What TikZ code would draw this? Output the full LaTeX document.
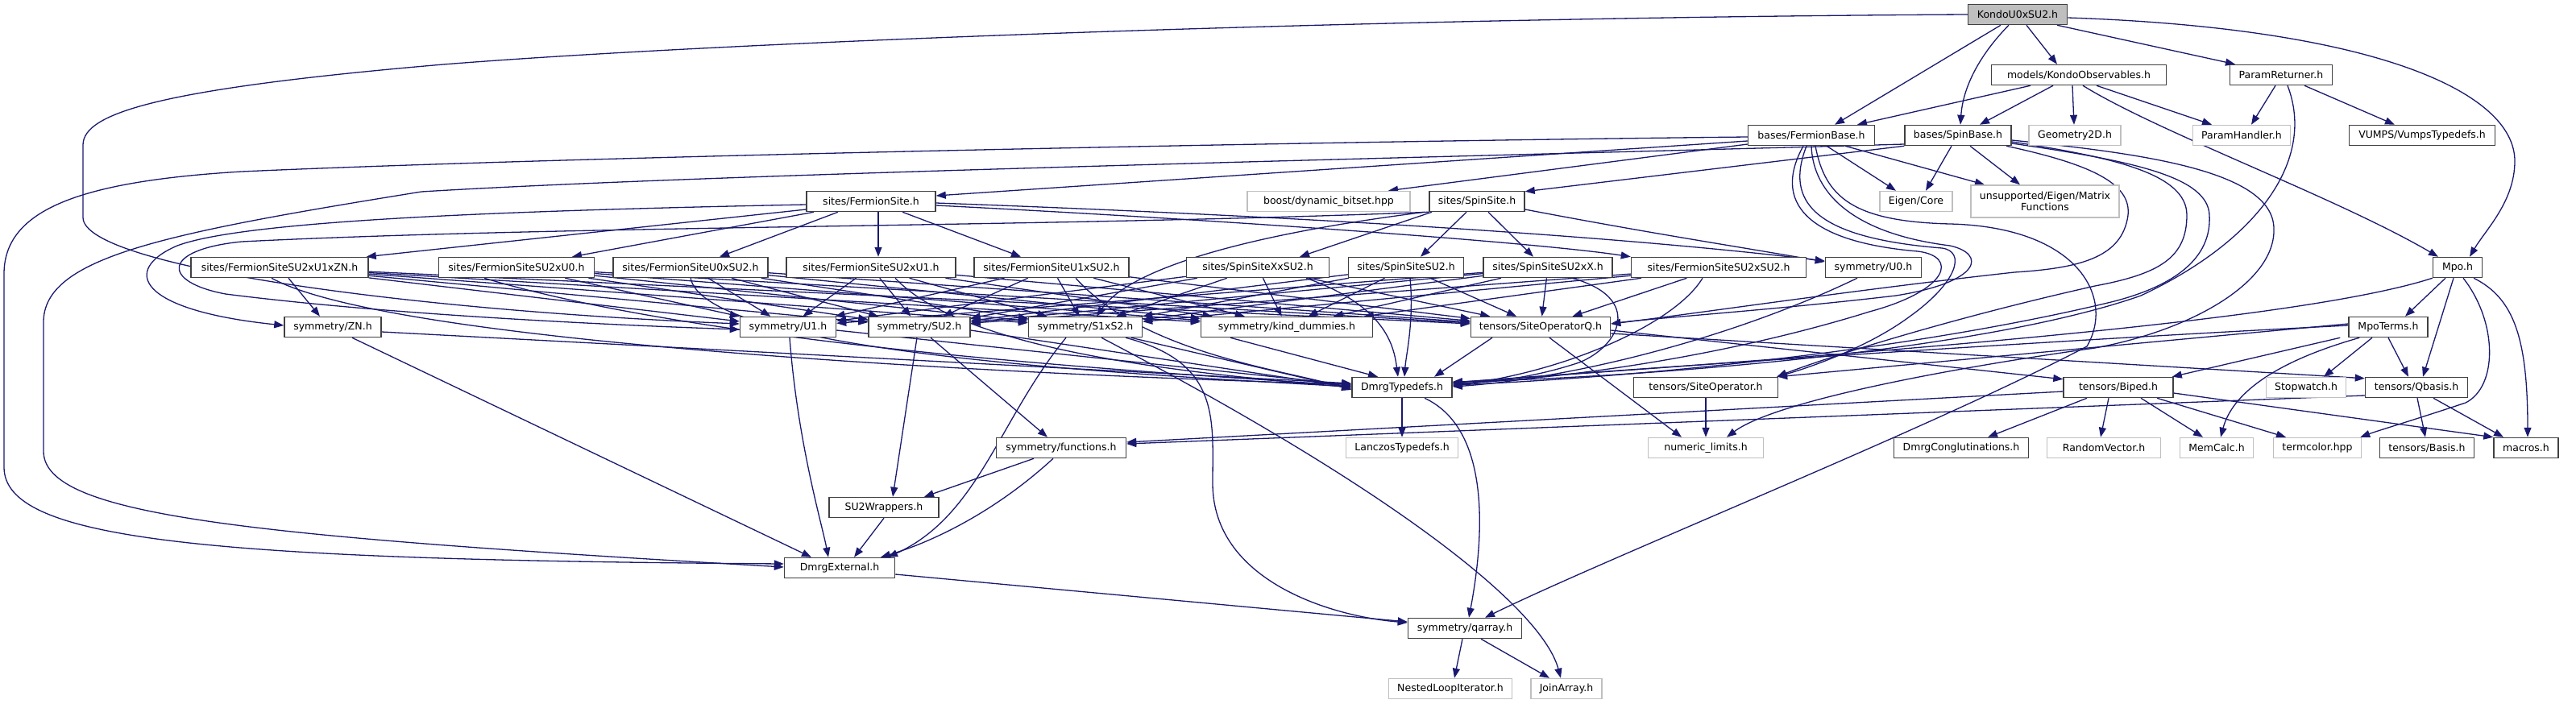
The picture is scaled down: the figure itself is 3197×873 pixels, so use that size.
\documentclass[tikz,border=0pt]{standalone}
\usepackage{fontspec}
\setmainfont{DejaVu Sans}
\usetikzlibrary{arrows.meta,backgrounds}
\definecolor{edgec}{HTML}{191970}
\definecolor{grayb}{HTML}{BFBFBF}
\definecolor{blackb}{HTML}{404040}
\begin{document}
\begin{tikzpicture}[x=1pt,y=-1pt,
  box/.style={draw=blackb, line width=1.5pt, fill=white, inner sep=0pt, minimum height=25pt, text=black, font=\fontsize{12.5}{14.5}\selectfont},
  gbox/.style={box, draw=grayb},
  edge/.style={draw=edgec, line width=1.3pt, -{Triangle[length=12pt,width=9pt]}}]
\useasboundingbox (0,0) rectangle (3197,873);
% ---------------- nodes ----------------
\node[box, fill=grayb, minimum width=123pt] (K) at (2504,18) {KondoU0xSU2.h};
\node[box, minimum width=217pt] (kobs) at (2580,93) {models/KondoObservables.h};
\node[box, minimum width=127pt] (pret) at (2831,93) {ParamReturner.h};
\node[box, minimum width=157pt] (fbase) at (2248,168) {bases/FermionBase.h};
\node[box, minimum width=132pt] (sbase) at (2430,168) {bases/SpinBase.h};
\node[gbox, minimum width=114pt] (geo) at (2575,168) {Geometry2D.h};
\node[gbox, minimum width=121pt] (phand) at (2782,168) {ParamHandler.h};
\node[box, minimum width=181pt] (vumps) at (3006,168) {VUMPS/VumpsTypedefs.h};
\node[box, minimum width=160pt] (fsite) at (1081,250) {sites/FermionSite.h};
\node[gbox, minimum width=202pt] (boost) at (1649,250) {boost/dynamic\_bitset.hpp};
\node[box, minimum width=118pt] (ssite) at (1833,250) {sites/SpinSite.h};
\node[gbox, minimum width=90pt] (eigen) at (2378,250) {Eigen/Core};
\node[gbox, minimum width=184pt, minimum height=40pt, align=center] (unsup) at (2538,250) {unsupported/Eigen/Matrix\\Functions};
\node[box, minimum width=61pt] (mpo) at (3050,332) {Mpo.h};
\node[box, minimum width=220pt] (fzn) at (347,332) {sites/FermionSiteSU2xU1xZN.h};
\node[box, minimum width=193pt] (fsu2u0) at (641,332) {sites/FermionSiteSU2xU0.h};
\node[box, minimum width=192pt] (fu0su2) at (857,332) {sites/FermionSiteU0xSU2.h};
\node[box, minimum width=210pt] (fsu2u1) at (1081,332) {sites/FermionSiteSU2xU1.h};
\node[box, minimum width=192pt] (fu1su2) at (1305,332) {sites/FermionSiteU1xSU2.h};
\node[box, minimum width=177pt] (sxsu2) at (1561,332) {sites/SpinSiteXxSU2.h};
\node[box, minimum width=143pt] (ssu2) at (1745,332) {sites/SpinSiteSU2.h};
\node[box, minimum width=160pt] (ssu2x) at (1921,332) {sites/SpinSiteSU2xX.h};
\node[box, minimum width=217pt] (fsu2su2) at (2133,332) {sites/FermionSiteSU2xSU2.h};
\node[box, minimum width=119pt] (u0) at (2325,332) {symmetry/U0.h};
\node[box, minimum width=120pt] (zn) at (413,406) {symmetry/ZN.h};
\node[box, minimum width=119pt] (u1) at (978,406) {symmetry/U1.h};
\node[box, minimum width=126pt] (su2) at (1141,406) {symmetry/SU2.h};
\node[box, minimum width=141pt] (s1s2) at (1347,406) {symmetry/S1xS2.h};
\node[box, minimum width=213pt] (kind) at (1597,406) {symmetry/kind\_dummies.h};
\node[box, minimum width=173pt] (soq) at (1912,406) {tensors/SiteOperatorQ.h};
\node[box, minimum width=98pt] (mpot) at (2964,406) {MpoTerms.h};
\node[box, minimum width=124pt] (dtyp) at (1740,481) {DmrgTypedefs.h};
\node[box, minimum width=179pt] (sop) at (2117,481) {tensors/SiteOperator.h};
\node[box, minimum width=136pt] (biped) at (2629,481) {tensors/Biped.h};
\node[gbox, minimum width=99pt] (stopw) at (2862,481) {Stopwatch.h};
\node[box, minimum width=127pt] (qbasis) at (2999,481) {tensors/Qbasis.h};
\node[box, minimum width=161pt] (func) at (1317,556) {symmetry/functions.h};
\node[gbox, minimum width=139pt] (lanc) at (1740,556) {LanczosTypedefs.h};
\node[gbox, minimum width=143pt] (numl) at (2117,556) {numeric\_limits.h};
\node[box, minimum width=167pt] (dconj) at (2434,556) {DmrgConglutinations.h};
\node[gbox, minimum width=141pt] (randv) at (2611,556) {RandomVector.h};
\node[gbox, minimum width=91pt] (memc) at (2751,556) {MemCalc.h};
\node[gbox, minimum width=109pt] (termc) at (2876,556) {termcolor.hpp};
\node[box, minimum width=117pt] (basis) at (3012,556) {tensors/Basis.h};
\node[box, minimum width=80pt] (macros) at (3135,556) {macros.h};
\node[box, minimum width=136pt] (su2w) at (1097,630) {SU2Wrappers.h};
\node[box, minimum width=137pt] (dext) at (1042,705) {DmrgExternal.h};
\node[box, minimum width=141pt] (qarr) at (1818,780) {symmetry/qarray.h};
\node[gbox, minimum width=153pt] (nest) at (1800,855) {NestedLoopIterator.h};
\node[gbox, minimum width=88pt] (join) at (1944,855) {JoinArray.h};
% ---------------- edges ----------------
\begin{pgfonlayer}{background}
\fill[white] (0,0) rectangle (3197,873);
% root
\draw[edge] ([xshift=-21pt]K.south) -- ([xshift=29pt]fbase.north);
\draw[edge] ([xshift=-11pt]K.south) .. controls (2455,70) and (2436,110) .. ([xshift=3pt]sbase.north);
\draw[edge] ([xshift=11pt]K.south) -- ([xshift=-27pt]kobs.north);
\draw[edge] ([xshift=49pt]K.south) -- ([xshift=-57pt]pret.north);
\draw[edge] ([yshift=-4pt]K.east) .. controls (2950,35) and (3121,115) .. (3121,200) .. controls (3121,250) and (3085,285) .. ([xshift=15pt]mpo.north);
\draw[edge] (K.west) .. controls (1700,22) and (900,52) .. (550,80) .. controls (200,110) and (103,140) .. (103,180) -- (103,270) .. controls (103,330) and (500,385) .. ([yshift=4pt]u1.west);
% KondoObservables
\draw[edge] ([xshift=-60pt]kobs.south) -- ([xshift=57pt]fbase.north);
\draw[edge] ([xshift=-32pt]kobs.south) -- ([xshift=27pt]sbase.north);
\draw[edge] ([xshift=-8pt]kobs.south) -- ([xshift=-1pt]geo.north);
\draw[edge] ([xshift=22pt]kobs.south) -- ([xshift=-37pt]phand.north);
\draw[edge] ([xshift=5pt]kobs.south) .. controls (2680,165) and (2900,245) .. ([xshift=-24pt]mpo.north);
% ParamReturner
\draw[edge] ([xshift=-7pt]pret.south) -- ([xshift=12pt]phand.north);
\draw[edge] ([xshift=29pt]pret.south) -- ([xshift=-34pt]vumps.north);
\draw[edge] ([xshift=8pt]pret.south) .. controls (2875,200) and (2800,300) .. (2657,367) .. controls (2450,440) and (2000,470) .. ([yshift=7pt]dtyp.east);
% FermionBase
\draw[edge] ([yshift=-7pt]fbase.west) -- ([yshift=7pt]fsite.east);
\draw[edge] ([yshift=-11pt]fbase.west) -- ([xshift=74pt]boost.north);
\draw[edge] ([xshift=19pt]fbase.south) -- ([xshift=-25pt]eigen.north);
\draw[edge] ([xshift=42pt]fbase.south) -- ([xshift=-75pt]unsup.north);
\draw[edge] ([yshift=-2pt]fbase.west) .. controls (1600,176) and (700,195) .. (300,213) .. controls (100,225) and (5,260) .. (5,340) -- (5,580) .. controls (5,670) and (250,695) .. ([yshift=5pt]dext.west);
\draw[edge] ([xshift=-10pt]fbase.south) .. controls (2200,250) and (2240,300) .. (2380,312) .. controls (2430,318) and (2420,360) .. (2320,387) .. controls (2150,440) and (1950,470) .. ([yshift=5pt]dtyp.east);
\draw[edge] ([xshift=-6pt]fbase.south) .. controls (2215,250) and (2250,295) .. (2410,308) .. controls (2440,312) and (2430,350) .. (2370,393) .. controls (2320,430) and (2250,455) .. ([xshift=-2pt]sop.north east);
\draw[edge] (fbase.south) .. controls (2250,240) and (2300,290) .. (2420,305) .. controls (2465,315) and (2460,350) .. (2353,367) .. controls (2200,385) and (2050,395) .. ([yshift=4pt]soq.east);
\draw[edge] ([xshift=5pt]fbase.south) .. controls (2265,245) and (2300,275) .. (2420,278) .. controls (2580,282) and (2625,370) .. (2590,430) .. controls (2400,530) and (2000,690) .. ([xshift=25pt]qarr.north);
% SpinBase
\draw[edge] ([xshift=-8pt]sbase.south) -- ([xshift=12pt]eigen.north);
\draw[edge] ([xshift=15pt]sbase.south) -- ([xshift=-31pt]unsup.north);
\draw[edge] (sbase.south west) -- ([yshift=-1pt]ssite.north east);
\draw[edge] ([yshift=-11pt]sbase.west) .. controls (1800,195) and (900,215) .. (523,238) .. controls (200,290) and (54,320) .. (54,400) -- (54,560) .. controls (54,640) and (300,665) .. ([yshift=1pt]dext.west);
\draw[edge] ([xshift=60pt]sbase.south) .. controls (2600,205) and (2650,230) .. (2640,273) .. controls (2630,320) and (2580,333) .. (2500,338) .. controls (2300,360) and (2100,390) .. ([yshift=4pt]soq.east);
\draw[edge] ([yshift=-8pt]sbase.east) .. controls (2620,195) and (2714,215) .. (2714,267) .. controls (2714,320) and (2680,340) .. (2600,355) .. controls (2400,400) and (2250,450) .. ([xshift=-2pt]sop.north east);
\draw[edge] ([yshift=-10pt]sbase.east) .. controls (2650,200) and (2740,220) .. (2742,267) .. controls (2745,320) and (2700,355) .. (2620,375) .. controls (2350,440) and (2000,470) .. ([yshift=3pt]dtyp.east);
\draw[edge] ([yshift=-6pt]sbase.east) .. controls (2650,190) and (2820,210) .. (2822,283) .. controls (2825,350) and (2720,410) .. (2600,432) .. controls (2400,460) and (2200,500) .. ([xshift=26pt]numl.north);
% FermionSite
\draw[edge] ([yshift=-10pt]fsite.west) -- ([xshift=-3pt]fzn.north east);
\draw[edge] ([xshift=-71pt]fsite.south) -- ([xshift=69pt]fsu2u0.north);
\draw[edge] ([xshift=-41pt]fsite.south) -- ([xshift=36pt]fu0su2.north);
\draw[edge] ([xshift=9pt]fsite.south) -- ([xshift=9pt]fsu2u1.north);
\draw[edge] ([xshift=39pt]fsite.south) -- ([xshift=-38pt]fu1su2.north);
\draw[edge] ([yshift=-5pt]fsite.east) .. controls (1500,272) and (1900,300) .. (fsu2su2.north west);
\draw[edge] ([yshift=-2pt]fsite.east) .. controls (1600,268) and (2000,292) .. ([yshift=8pt]u0.west);
\draw[edge] ([yshift=-4pt]fsite.west) .. controls (600,262) and (300,275) .. (220,305) .. controls (150,335) and (170,385) .. ([yshift=2pt]zn.west);
% SpinSite
\draw[edge] ([xshift=-56pt]ssite.south) -- ([xshift=52pt]sxsu2.north);
\draw[edge] ([xshift=-13pt]ssite.south) -- ([xshift=18pt]ssu2.north);
\draw[edge] ([xshift=14pt]ssite.south) -- ([xshift=-18pt]ssu2x.north);
\draw[edge] ([yshift=-10pt]ssite.east) .. controls (2050,290) and (2150,305) .. ([yshift=7pt]u0.west);
\draw[edge] (ssite.south west) .. controls (1300,282) and (700,280) .. (300,300) .. controls (200,310) and (200,350) .. (280,365) .. controls (500,393) and (800,405) .. ([yshift=-3pt]u1.west);
\draw[edge] ([xshift=-5pt]ssite.south west) .. controls (1480,300) and (1390,350) .. ([xshift=14pt]s1s2.north);
% sites -> symmetry / operators
\draw[edge] ([xshift=11pt]fzn.south) -- ([xshift=-16pt]zn.north);
\foreach \s/\t in {fzn/u1,fzn/su2,fzn/s1s2,fzn/kind,fzn/soq,
  fsu2u0/u1,fsu2u0/su2,fsu2u0/s1s2,fsu2u0/kind,fsu2u0/soq,
  fu0su2/u1,fu0su2/su2,fu0su2/s1s2,fu0su2/kind,fu0su2/soq,
  fsu2u1/u1,fsu2u1/su2,fsu2u1/s1s2,fsu2u1/kind,fsu2u1/soq,
  fu1su2/u1,fu1su2/su2,fu1su2/s1s2,fu1su2/kind,fu1su2/soq,
  sxsu2/u1,sxsu2/su2,sxsu2/s1s2,sxsu2/kind,sxsu2/soq,
  ssu2/su2,ssu2/s1s2,ssu2/kind,ssu2/soq,
  ssu2x/u1,ssu2x/su2,ssu2x/s1s2,ssu2x/kind,ssu2x/soq,
  fsu2su2/su2,fsu2su2/s1s2,fsu2su2/kind,fsu2su2/soq}
  {\draw[edge] (\s) -- (\t);}
% sites -> DmrgTypedefs
\draw[edge] ([xshift=-10pt]fzn.south) .. controls (500,435) and (1400,470) .. ([yshift=4pt]dtyp.west);
\draw[edge] ([xshift=-40pt]fsu2u0.south) .. controls (900,435) and (1500,466) .. ([yshift=2pt]dtyp.west);
\draw[edge] (fu0su2.south) .. controls (875,430) and (1300,460) .. ([yshift=1pt]dtyp.west);
\draw[edge] ([xshift=30pt]fsu2u1.south) .. controls (1200,440) and (1500,465) .. (dtyp.west);
\draw[edge] ([xshift=30pt]fu1su2.south) .. controls (1420,440) and (1600,460) .. ([yshift=-3pt]dtyp.west);
\draw[edge] ([xshift=60pt]sxsu2.south) .. controls (1720,380) and (1730,430) .. ([xshift=-5pt]dtyp.north);
\draw[edge] ([xshift=5pt]ssu2.south) .. controls (1755,400) and (1745,440) .. ([xshift=3pt]dtyp.north);
\draw[edge] ([xshift=30pt]ssu2x.south) .. controls (2040,370) and (2010,430) .. (1960,450) .. controls (1900,470) and (1850,474) .. ([yshift=4pt]dtyp.east);
\draw[edge] ([xshift=-20pt]fsu2su2.south) .. controls (2080,400) and (1950,460) .. ([yshift=2pt]dtyp.east);
\draw[edge] ([xshift=-20pt]u0.south) .. controls (2150,420) and (1950,470) .. ([yshift=1pt]dtyp.east);
% symmetry row
\draw[edge] ([xshift=24pt]zn.south) -- ([xshift=-35pt]dext.north);
\draw[edge] ([yshift=-6pt]zn.east) -- ([yshift=5pt]dtyp.west);
\draw[edge] ([xshift=2pt]u1.south) .. controls (990,550) and (1020,650) .. ([xshift=-14pt]dext.north);
\draw[edge] ([yshift=-4pt]u1.east) -- ([yshift=3pt]dtyp.west);
\draw[edge] ([xshift=-3pt]su2.south) -- ([xshift=11pt]su2w.north);
\draw[edge] ([xshift=14pt]su2.south) -- ([xshift=-17pt]func.north);
\draw[edge] ([yshift=-4pt]su2.east) -- ([yshift=0pt]dtyp.west);
\draw[edge] ([xshift=-24pt]s1s2.south) .. controls (1240,520) and (1215,640) .. ([xshift=60pt]dext.north);
\draw[edge] ([xshift=50pt]s1s2.south) .. controls (1515,450) and (1505,520) .. (1505,600) .. controls (1505,720) and (1650,765) .. ([yshift=7pt]qarr.west);
\draw[edge] ([xshift=20pt]s1s2.south) .. controls (1750,620) and (1915,760) .. ([xshift=-7pt]join.north);
\draw[edge] (s1s2) -- ([yshift=-2pt]dtyp.west);
\draw[edge] ([xshift=-70pt]kind.south) -- ([xshift=-30pt]dtyp.north);
% operators
\draw[edge] ([xshift=-60pt]soq.south) -- ([xshift=40pt]dtyp.north);
\draw[edge] ([xshift=11pt]soq.south) -- ([xshift=-30pt]numl.north);
\draw[edge] ([yshift=-4pt]soq.east) -- ([yshift=-3pt]biped.north west);
\draw[edge] ([yshift=-8pt]soq.east) -- ([yshift=-2pt]qbasis.north west);
\draw[edge] (sop) -- (numl);
% Mpo / MpoTerms
\draw[edge] ([xshift=-15pt]mpo.south) -- ([xshift=21pt]mpot.north);
\draw[edge] ([xshift=-5pt]mpo.south) -- ([xshift=8pt]qbasis.north);
\draw[edge] ([xshift=20pt]mpo.south) .. controls (3120,370) and (3137,420) .. ([xshift=2pt]macros.north);
\draw[edge] ([xshift=7pt]mpo.south) .. controls (3100,400) and (3100,480) .. (3060,500) .. controls (3000,520) and (2950,535) .. ([xshift=-2pt]termc.north east);
\draw[edge] (mpo.south west) .. controls (2850,400) and (2300,440) .. ([yshift=6pt]dtyp.east);
\draw[edge] ([xshift=-20pt]mpot.south) -- ([xshift=22pt]stopw.north);
\draw[edge] (mpot.south) -- ([xshift=-10pt]qbasis.north);
\draw[edge] ([xshift=-10pt]mpot.south west) -- ([xshift=-2pt]biped.north east);
\draw[edge] ([xshift=14pt]mpot.south west) .. controls (2820,450) and (2770,490) .. ([xshift=5pt]memc.north);
\draw[edge] ([yshift=4pt]mpot.west) -- ([xshift=-1pt]sop.north east);
\draw[edge] ([yshift=2pt]mpot.west) .. controls (2500,425) and (2000,460) .. ([yshift=6pt]dtyp.east);
% Biped / Qbasis
\draw[edge] ([xshift=-39pt]biped.south) -- ([xshift=33pt]dconj.north);
\draw[edge] ([xshift=-12pt]biped.south) -- ([xshift=-4pt]randv.north);
\draw[edge] ([xshift=28pt]biped.south) -- ([xshift=-17pt]memc.north);
\draw[edge] ([xshift=48pt]biped.south) -- ([xshift=-39pt]termc.north);
\draw[edge] ([yshift=-7pt]biped.east) -- (macros.north west);
\draw[edge] ([yshift=-5pt]biped.west) -- ([yshift=7pt]func.east);
\draw[edge] ([xshift=1pt]qbasis.south) -- ([xshift=-2pt]basis.north);
\draw[edge] ([xshift=21pt]qbasis.south) -- ([xshift=-28pt]macros.north);
\draw[edge] ([yshift=-10pt]qbasis.west) -- ([yshift=5pt]func.east);
% lower part
\draw[edge] ([xshift=-34pt]func.south) -- ([xshift=50pt]su2w.north);
\draw[edge] ([xshift=-10pt]func.south) .. controls (1230,640) and (1150,675) .. ([xshift=51pt]dext.north);
\draw[edge] (su2w.south) -- ([xshift=18pt]dext.north);
\draw[edge] (dtyp) -- (lanc);
\draw[edge] ([xshift=28pt]dtyp.south) .. controls (1845,530) and (1845,650) .. ([xshift=5pt]qarr.north);
\draw[edge] ([yshift=-8pt]dext.east) -- ([yshift=8pt]qarr.west);
\draw[edge] ([xshift=-3pt]qarr.south) -- ([xshift=5pt]nest.north);
\draw[edge] ([xshift=20pt]qarr.south) -- ([xshift=-21pt]join.north);
\end{pgfonlayer}
\end{tikzpicture}
\end{document}
